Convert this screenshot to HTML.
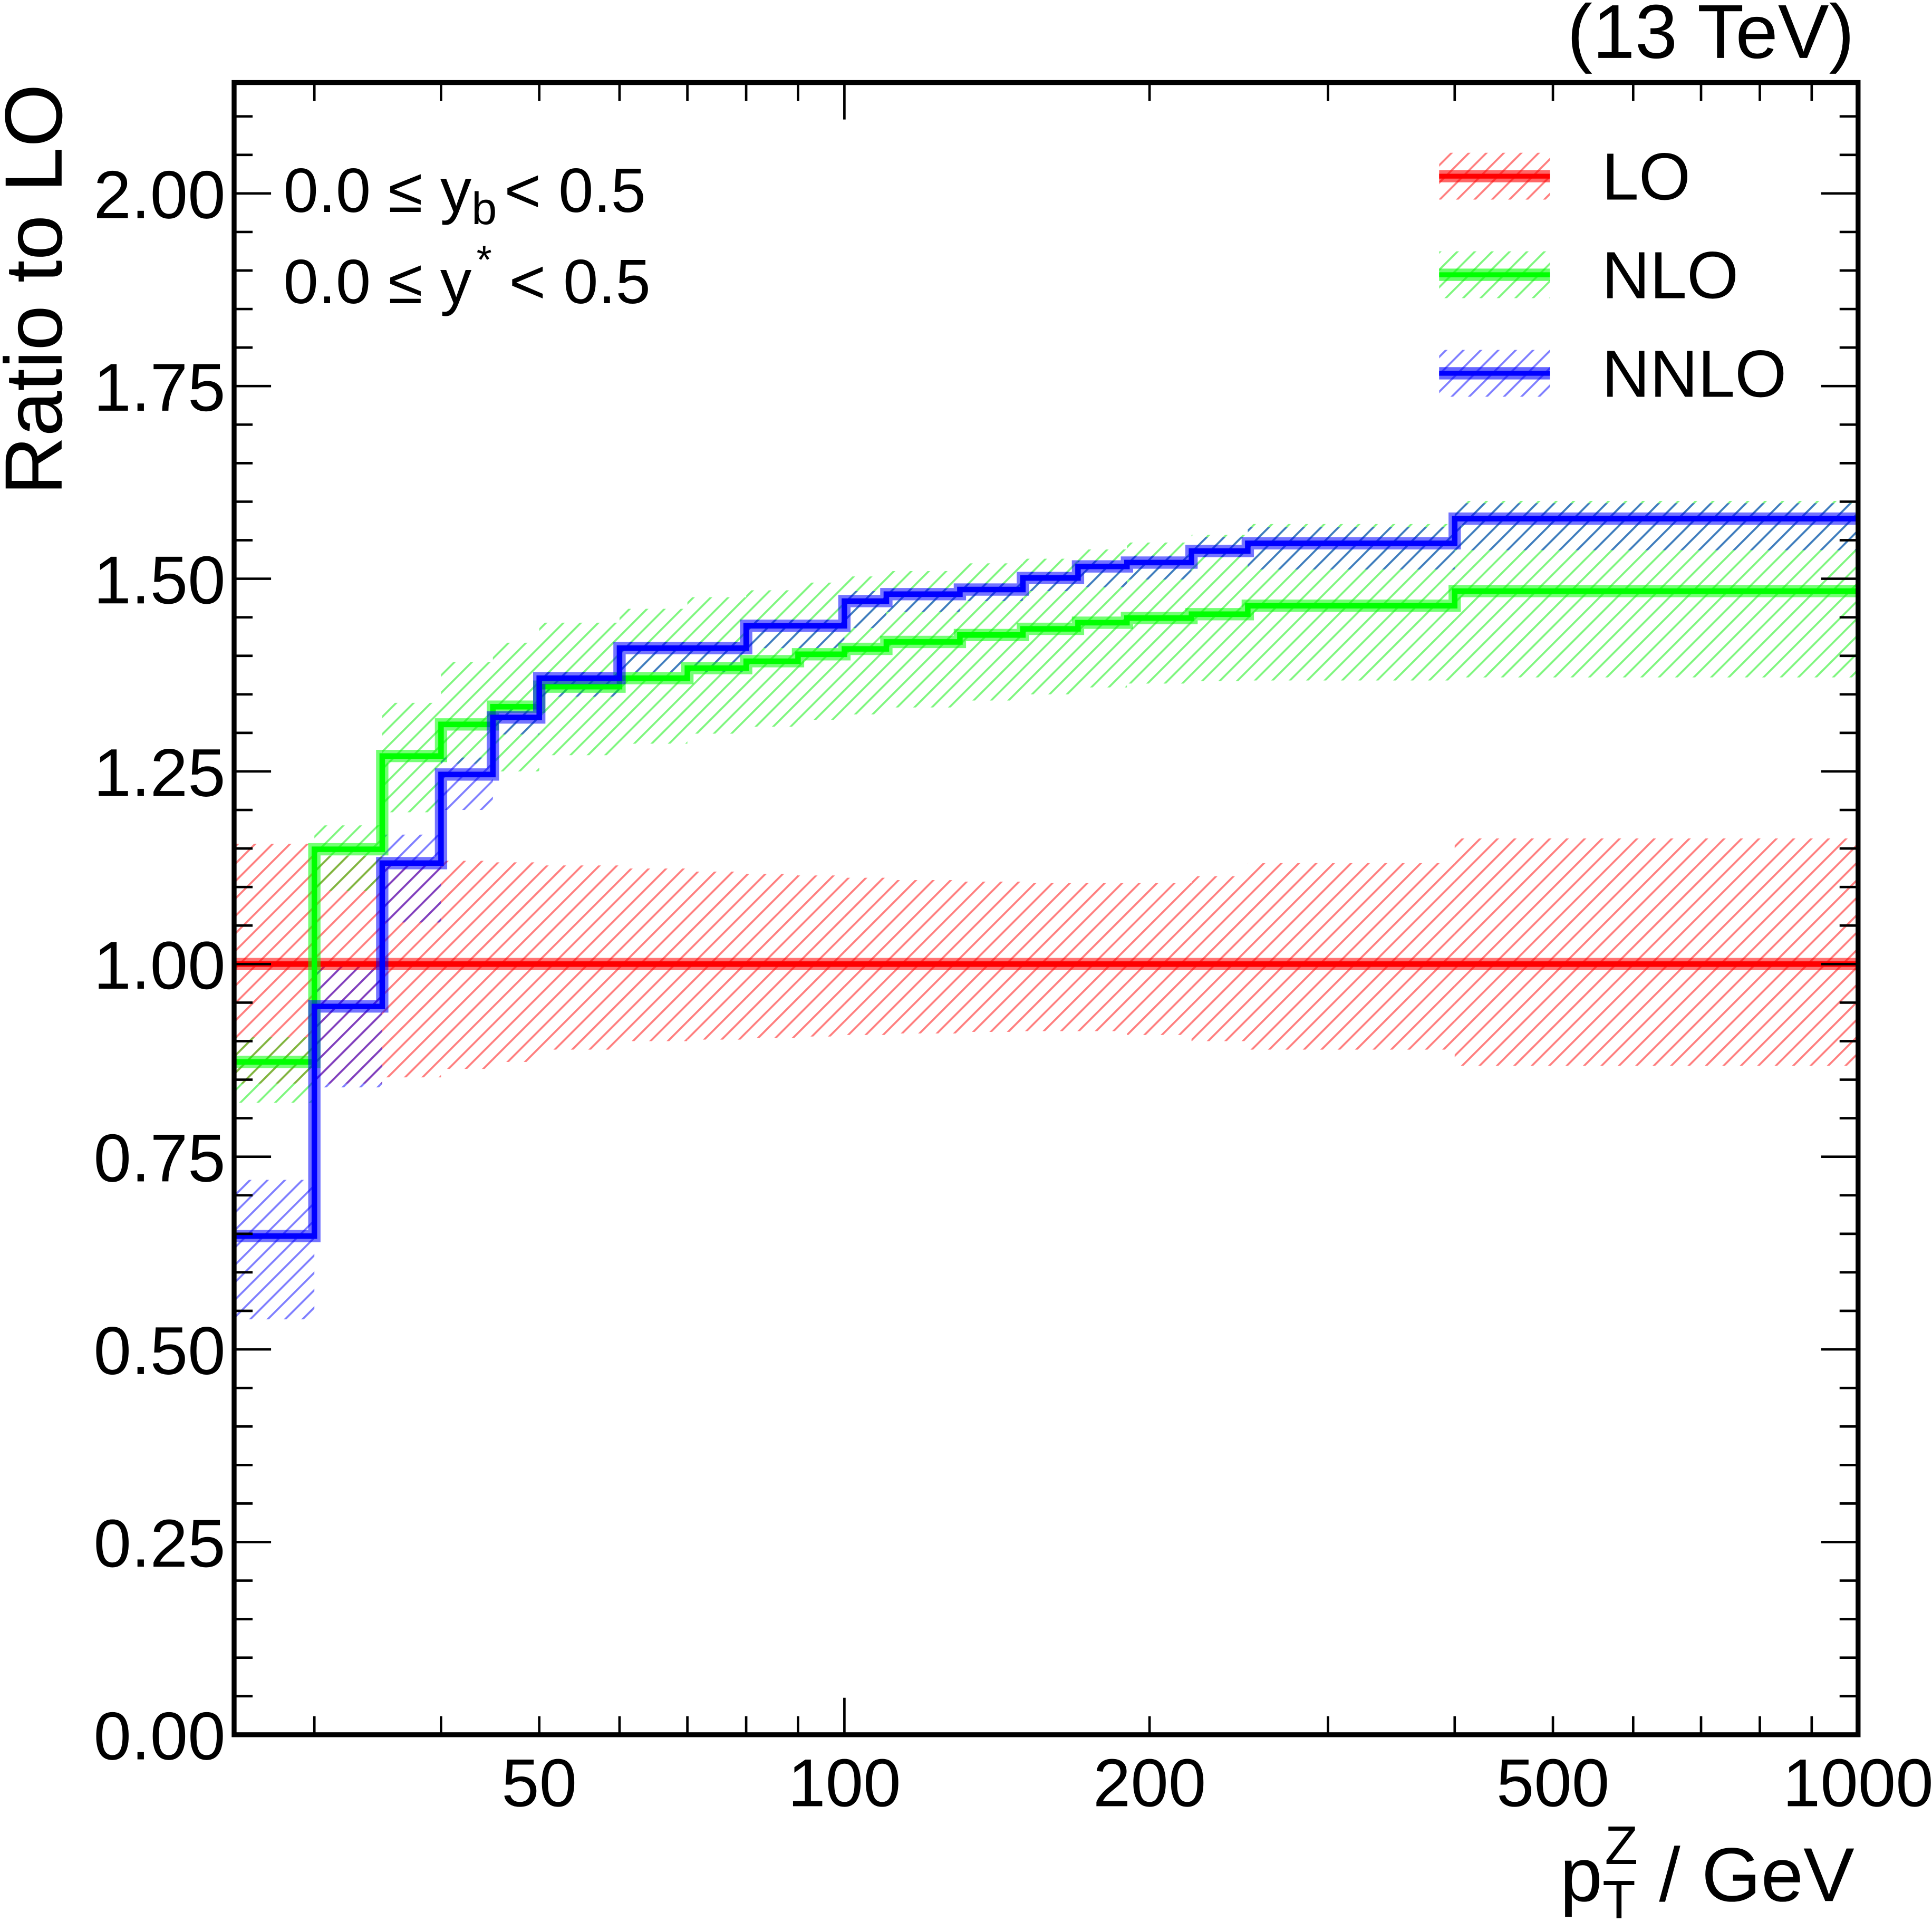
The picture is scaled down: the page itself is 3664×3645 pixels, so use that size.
<!DOCTYPE html>
<html><head><meta charset="utf-8"><style>
html,body{margin:0;padding:0;background:#fff;}
svg{display:block;font-family:"Liberation Sans",Arial,sans-serif;}
</style></head><body>
<svg id="chart" width="3664" height="3645" viewBox="0 0 1568 1560" preserveAspectRatio="none" xmlns="http://www.w3.org/2000/svg">
<defs>
<pattern id="hr" patternUnits="userSpaceOnUse" width="10" height="10" patternTransform="rotate(45)"><line x1="0" y1="0" x2="0" y2="10" stroke="#ff0000" stroke-opacity="0.5" stroke-width="3.2"/></pattern>
<pattern id="hg" patternUnits="userSpaceOnUse" width="10" height="10" patternTransform="rotate(45)"><line x1="0" y1="0" x2="0" y2="10" stroke="#00ee00" stroke-opacity="0.5" stroke-width="3.2"/></pattern>
<pattern id="hb" patternUnits="userSpaceOnUse" width="10" height="10" patternTransform="rotate(45)"><line x1="0" y1="0" x2="0" y2="10" stroke="#0000ff" stroke-opacity="0.5" stroke-width="3.2"/></pattern>
</defs>
<g id="bands"></g>
<g id="lines"></g>
<g id="axes"></g>
<text x="1505" y="47" font-size="62" text-anchor="end">(13 TeV)</text>
<text transform="translate(50,235) rotate(-90)" font-size="66" text-anchor="middle">Ratio to LO</text>
<text x="1505" y="1543" font-size="62" text-anchor="end">p<tspan font-size="44" dy="14">T</tspan><tspan font-size="44" dx="-25" dy="-44">Z</tspan><tspan dy="30"> / GeV</tspan></text>
<text x="230" y="172" font-size="51">0.0 ≤ y<tspan font-size="37" dy="10">b</tspan><tspan dy="-10" dx="6">&lt; 0.5</tspan></text>
<text x="230" y="246" font-size="51">0.0 ≤ y<tspan font-size="32" dx="4" dy="-24">*</tspan><tspan dy="24" dx="14">&lt; 0.5</tspan></text>
<g>
<g><rect x="1168" y="124" width="90" height="38" fill="url(#hr)"/><line x1="1168" x2="1258" y1="143" y2="143" stroke="#ff0000" stroke-width="10" stroke-opacity="0.6"/><line x1="1168" x2="1258" y1="143" y2="143" stroke="#ff0000" stroke-width="4"/><text x="1300" y="162" font-size="54">LO</text></g>
<g><rect x="1168" y="204" width="90" height="38" fill="url(#hg)"/><line x1="1168" x2="1258" y1="223" y2="223" stroke="#00ff00" stroke-width="10" stroke-opacity="0.6"/><line x1="1168" x2="1258" y1="223" y2="223" stroke="#00ff00" stroke-width="4"/><text x="1300" y="242" font-size="54">NLO</text></g>
<g><rect x="1168" y="284" width="90" height="38" fill="url(#hb)"/><line x1="1168" x2="1258" y1="303" y2="303" stroke="#0000ff" stroke-width="10" stroke-opacity="0.6"/><line x1="1168" x2="1258" y1="303" y2="303" stroke="#0000ff" stroke-width="4"/><text x="1300" y="322" font-size="54">NNLO</text></g>
</g>
</svg>
<script>
const binEdges = [25,30,35,40,45,50,60,70,80,90,100,110,130,150,170,190,220,250,400,1000];
const loVal = [1,1,1,1,1,1,1,1,1,1,1,1,1,1,1,1,1,1,1];
const loUp = [1.156,1.14,1.134,1.134,1.132,1.128,1.124,1.120,1.117,1.115,1.112,1.109,1.107,1.105,1.105,1.105,1.114,1.131,1.163];
const loDn = [0.845,0.845,0.853,0.864,0.873,0.889,0.900,0.902,0.904,0.906,0.908,0.910,0.912,0.913,0.913,0.908,0.900,0.889,0.868];
const nloVal = [0.873,1.149,1.270,1.311,1.334,1.36,1.371,1.384,1.393,1.402,1.409,1.418,1.427,1.435,1.443,1.449,1.454,1.465,1.484];
const nloUp = [0.905,1.18,1.339,1.392,1.417,1.443,1.461,1.476,1.485,1.495,1.503,1.510,1.520,1.526,1.538,1.547,1.557,1.571,1.601];
const nloDn = [0.82,1.095,1.197,1.26,1.25,1.271,1.286,1.299,1.308,1.317,1.324,1.333,1.342,1.350,1.359,1.364,1.367,1.368,1.372];
const nnloVal = [0.647,0.945,1.131,1.246,1.32,1.371,1.410,1.410,1.439,1.439,1.471,1.480,1.486,1.501,1.516,1.521,1.536,1.546,1.578];
const nnloUp = [0.72,1.0,1.168,1.268,1.336,1.379,1.418,1.418,1.447,1.447,1.484,1.487,1.494,1.509,1.523,1.530,1.554,1.567,1.598];
const nnloDn = [0.539,0.84,1.054,1.2,1.298,1.347,1.379,1.379,1.410,1.410,1.436,1.457,1.471,1.484,1.489,1.499,1.528,1.512,1.537];
const yTickLabels = ["0.00","0.25","0.50","0.75","1.00","1.25","1.50","1.75","2.00"];
const xTickLabels = ["50","100","200","500","1000"];

const L=190,R=1508,T=67,B=1408,XMIN=25,XMAX=1000,YMAX=(B-T)/625.5;
function xs(v){return L+(Math.log10(v)-Math.log10(XMIN))/(Math.log10(XMAX)-Math.log10(XMIN))*(R-L);}
function ys(v){return B-v/YMAX*(B-T);}
const NS="http://www.w3.org/2000/svg";
function mk(tag,attrs,parent){const e=document.createElementNS(NS,tag);for(const k in attrs)e.setAttribute(k,attrs[k]);parent.appendChild(e);return e;}
const bands=document.getElementById('bands'),lines=document.getElementById('lines'),axes=document.getElementById('axes');

function drawSeries(name,vals,up,dn,pat,col){
  for(let i=0;i<vals.length;i++){
    const r=mk('rect',{x:xs(binEdges[i]),y:ys(up[i]),width:xs(binEdges[i+1])-xs(binEdges[i]),height:ys(dn[i])-ys(up[i]),fill:'url(#'+pat+')'},bands);
    
    
  }
  let d='M'+xs(binEdges[0])+','+ys(vals[0]);
  for(let i=0;i<vals.length;i++){
    if(i>0)d+=' V'+ys(vals[i]);
    d+=' H'+xs(binEdges[i+1]);
  }
  const p1=mk('path',{d:d,fill:'none',stroke:col,'stroke-width':10,'stroke-opacity':0.55},lines);
  
  
  const p2=mk('path',{d:d,fill:'none',stroke:col,'stroke-width':4.5},lines);
  
  
}
drawSeries('lo',loVal,loUp,loDn,'hr','#ff0000');
drawSeries('nlo',nloVal,nloUp,nloDn,'hg','#00ff00');
drawSeries('nnlo',nnloVal,nnloUp,nnloDn,'hb','#0000ff');

for(let k=0;k*0.05<=YMAX+1e-9;k++){
  const v=k*0.05,y=ys(v),maj=(k%5===0),len=maj?30:15;
  mk('line',{x1:L,x2:L+len,y1:y,y2:y,stroke:'#000','stroke-width':2},axes);
  mk('line',{x1:R,x2:R-len,y1:y,y2:y,stroke:'#000','stroke-width':2},axes);
}
yTickLabels.forEach(s=>{
  const t=mk('text',{x:L-7,y:ys(parseFloat(s))+20,'font-size':55,'text-anchor':'end'},axes);
  t.textContent=s;
  
  
});
const majX=[100,1000];
for(let dec=10;dec<=1000;dec*=10){
  for(let m=1;m<10;m++){
    const v=m*dec; if(v<XMIN||v>XMAX)continue;
    const x=xs(v),len=majX.includes(v)?30:15;
    mk('line',{x1:x,x2:x,y1:B,y2:B-len,stroke:'#000','stroke-width':2},axes);
    mk('line',{x1:x,x2:x,y1:T,y2:T+len,stroke:'#000','stroke-width':2},axes);
  }
}
xTickLabels.forEach(s=>{
  const t=mk('text',{x:xs(parseFloat(s)),y:B+58,'font-size':55,'text-anchor':'middle'},axes);
  t.textContent=s;
  
  
});
const fr=mk('rect',{x:L,y:T,width:R-L,height:B-T,fill:'none',stroke:'#000','stroke-width':4},axes);


</script>
</body></html>
